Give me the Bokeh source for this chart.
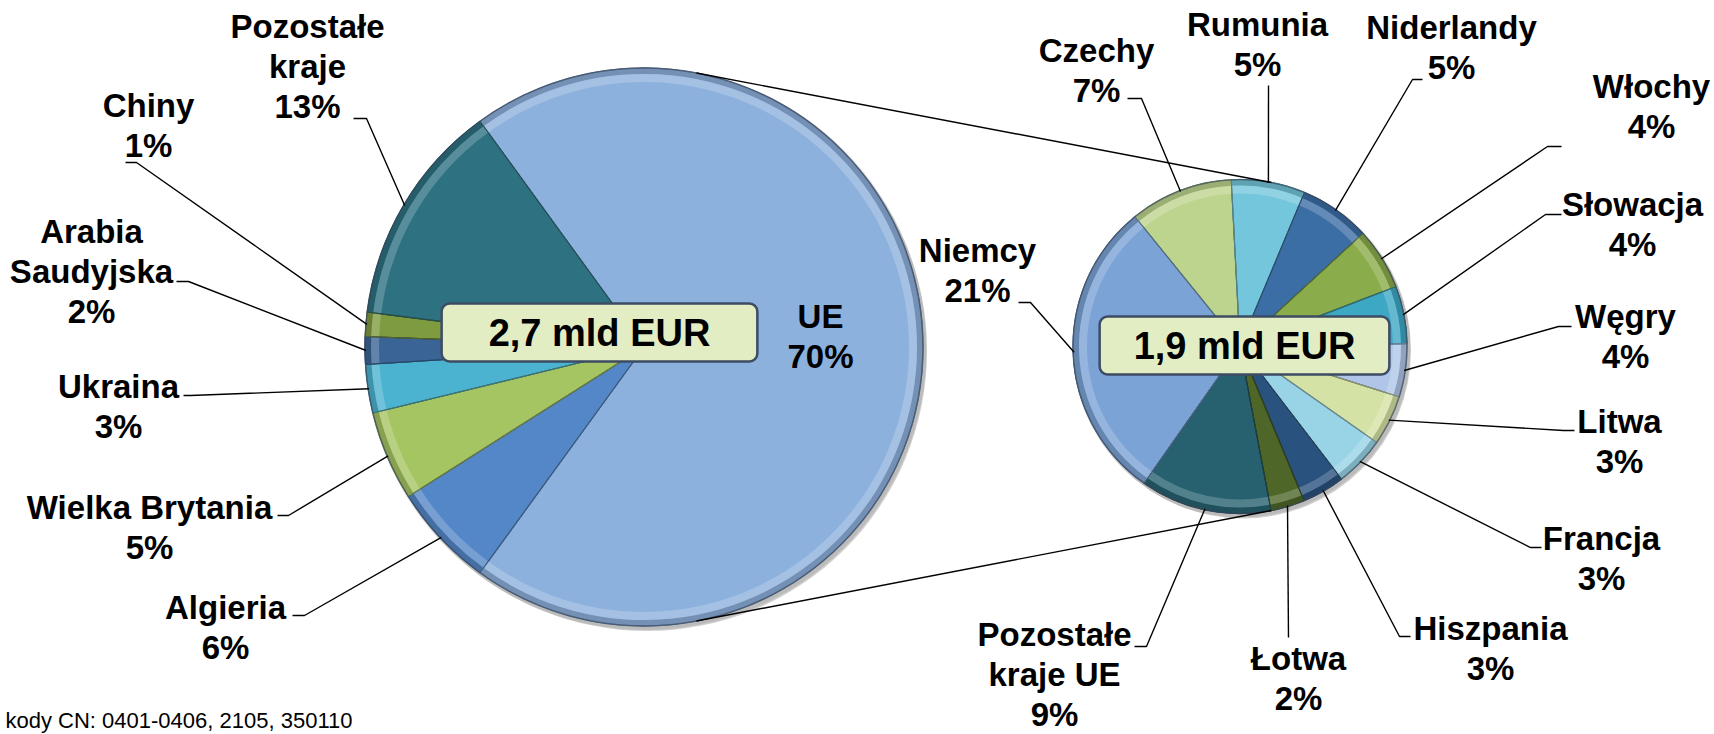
import math
import numpy as np
from bokeh.plotting import figure
from bokeh.models import Range1d, Label, ColumnDataSource
from bokeh.core.properties import value
from bokeh.embed import file_html
from bokeh.resources import INLINE

# ---------------- data ----------------
main_names = ["UE", "Algieria", "Wielka Brytania", "Ukraina", "Arabia Saudyjska", "Chiny", "Pozostałe kraje"]
main_shares = [70.0, 6.0, 5.2, 2.8, 1.6, 1.4, 13.0]

ue_names = ["Czechy", "Rumunia", "Niderlandy", "Włochy", "Słowacja", "Węgry", "Litwa",
            "Francja", "Hiszpania", "Łotwa", "Pozostałe kraje UE", "Niemcy"]
ue_shares = [7.0, 5.0, 4.8, 4.2, 3.9, 3.6, 3.4, 3.4, 2.9, 2.3, 8.9, 20.6]

total_labels = ["2,7 mld EUR", "1,9 mld EUR"]
source_note = "kody CN: 0401-0406, 2105, 350110"

# ---------------- styling / layout ----------------
main_colors = ["#8DB1DD", "#5487C7", "#A5C462", "#4BB3CF", "#3B6496", "#7F9B3F", "#2E7282"]
ue_colors = ["#BDD48E", "#74C6DC", "#3C6EA6", "#8AAC4A", "#3CA8C4", "#AFC6E8", "#D5E2A5",
             "#98D4E6", "#2A527E", "#4E6628", "#27616F", "#7BA3D6"]

line_breaks = {"Arabia Saudyjska": ["Arabia", "Saudyjska"],
               "Pozostałe kraje": ["Pozostałe", "kraje"],
               "Pozostałe kraje UE": ["Pozostałe", "kraje UE"]}

# label first-line centres (page pixels)
main_label_pos = [(820, 316), (225, 607), (149, 507), (118, 386), (91, 231), (148, 105), (307, 26)]
ue_label_pos = [(1096, 50), (1257, 24), (1451, 27), (1651, 86), (1632, 204), (1625, 316), (1619, 421),
                (1601, 538), (1490, 628), (1298, 658), (1054, 634), (977, 250)]
# leader stubs: (x_far, x_near, y)
main_stubs = [None, (292, 304, 615), (277, 288, 515), (183, 190, 395), (176, 188, 281),
              (125, 136, 162), (353, 366, 118)]
ue_stubs = [(1127, 1141, 98), (1268, 1268, 85), (1422, 1412, 79), (1561, 1547, 146),
            (1561, 1545, 214), (1571, 1558, 326), (1574, 1563, 430), (1541, 1530, 547),
            (1410, 1399, 636), (1288, 1288, 637), (1134, 1146, 646), (1018, 1030, 302)]

L_CX, L_CY, L_R = 643.5, 346.5, 279.0
R_CX, R_CY, R_R = 1239.5, 346.0, 167.0
R_START = -39.0
LINE_H = 40
FONT = "Liberation Sans"

W, H = 1714, 734
p = figure(width=W, height=H, x_range=Range1d(0, W), y_range=Range1d(-H, 0),
           toolbar_location=None, output_backend="svg", min_border=0,
           x_axis_location=None, y_axis_location=None)
p.grid.visible = False
p.outline_line_color = None
p.background_fill_color = "white"


def mix(hexc, target, t):
    h = hexc.lstrip("#")
    c = [int(h[i:i + 2], 16) for i in (0, 2, 4)]
    return "#%02x%02x%02x" % tuple(int(round(a + (b - a) * t)) for a, b in zip(c, target))


def pt(cx, cy, r, th):
    t = math.radians(th)
    return cx + r * math.sin(t), -(cy - r * math.cos(t))


def draw_pie(cx, cy, r, shares, colors, start):
    tot = sum(shares)
    cum = np.concatenate([[0.0], np.cumsum([s / tot * 360.0 for s in shares])])
    th0 = start + cum[:-1]
    th1 = start + cum[1:]
    sa = np.radians(90.0 - th1)
    ea = np.radians(90.0 - th0)
    # shadow
    p.circle(x=[cx + 3], y=[-cy - 4], radius=r + 1, fill_color="black", fill_alpha=0.18, line_color=None)
    p.circle(x=[cx + 1.5], y=[-cy - 2], radius=r + 2, fill_color="black", fill_alpha=0.10, line_color=None)
    src = ColumnDataSource(dict(sa=sa, ea=ea, c=colors,
                                dk=[mix(c, (0, 0, 0), 0.35) for c in colors],
                                dk2=[mix(c, (0, 0, 0), 0.18) for c in colors],
                                lt=[mix(c, (255, 255, 255), 0.45) for c in colors]))
    p.wedge(x=cx, y=-cy, radius=r, start_angle="sa", end_angle="ea", direction="anticlock",
            fill_color="c", line_color="dk", line_width=1.2, source=src)
    p.annular_wedge(x=cx, y=-cy, inner_radius=r - 6, outer_radius=r, start_angle="sa", end_angle="ea",
                    direction="anticlock", fill_color="dk2", line_color=None, source=src)
    p.annular_wedge(x=cx, y=-cy, inner_radius=r - 14, outer_radius=r - 6, start_angle="sa", end_angle="ea",
                    direction="anticlock", fill_color="lt", fill_alpha=0.45, line_color=None, source=src)
    p.wedge(x=cx, y=-cy, radius=r, start_angle="sa", end_angle="ea", direction="anticlock",
            fill_color=None, line_color="dk", line_width=1.0, source=src)
    p.circle(x=[cx], y=[-cy], radius=r, fill_color=None, line_color="#3E4C62", line_alpha=0.6, line_width=1.5)
    return (th0 + th1) / 2.0


mid_main = draw_pie(L_CX, L_CY, L_R, main_shares, main_colors, 90.0 - main_shares[0] / sum(main_shares) * 180.0)
mid_ue = draw_pie(R_CX, R_CY, R_R, ue_shares, ue_colors, R_START)

# connector lines (external tangents of both pies)
d = R_CX - L_CX
alpha = math.degrees(math.asin((L_R - R_R) / d))
cx_lines, cy_lines = [], []
for th in (alpha, 180.0 - alpha):
    a = pt(L_CX, L_CY, L_R, th)
    b = pt(R_CX, R_CY, R_R, th)
    cx_lines.append([a[0], b[0]])
    cy_lines.append([a[1], b[1]])
p.multi_line(xs=cx_lines, ys=cy_lines, line_color="black", line_width=1.4)

# leader lines
lx, ly = [], []
for stubs, mids, cx, cy, r in ((main_stubs, mid_main, L_CX, L_CY, L_R), (ue_stubs, mid_ue, R_CX, R_CY, R_R)):
    for s, m in zip(stubs, mids):
        if s is None:
            continue
        e = pt(cx, cy, r - 1, m)
        lx.append([s[0], s[1], e[0]])
        ly.append([-s[2], -s[2], e[1]])
p.multi_line(xs=lx, ys=ly, line_color="black", line_width=1.4)

# labels
tx, ty, tt = [], [], []
for names, shares, poss in ((main_names, main_shares, main_label_pos), (ue_names, ue_shares, ue_label_pos)):
    for n, v, (x, y) in zip(names, shares, poss):
        lines = line_breaks.get(n, [n]) + ["%d%%" % int(round(v))]
        for i, ln in enumerate(lines):
            tx.append(x)
            ty.append(-(y + i * LINE_H))
            tt.append(ln)
p.text(x=tx, y=ty, text=tt, text_align="center", text_baseline="middle",
       text_font=value(FONT), text_font_style="bold", text_font_size="33px", text_color="black")

# total boxes
boxes = [((599, 332), dict(top=8, bottom=8, left=47, right=47)),
         ((1244, 345), dict(top=8, bottom=8, left=34, right=34))]
for txt, ((bx, by), pad) in zip(total_labels, boxes):
    p.add_layout(Label(x=bx, y=-by, text=txt, text_align="center", text_baseline="middle",
                       text_font=FONT, text_font_size="38px", text_font_style="bold", text_alpha=0.0,
                       x_offset=3, y_offset=-3, padding=pad, border_radius=8,
                       background_fill_color="black", background_fill_alpha=0.22, border_line_color=None))
    p.add_layout(Label(x=bx, y=-by, text=txt, text_align="center", text_baseline="middle",
                       text_font=FONT, text_font_size="38px", text_font_style="bold", text_color="black",
                       padding=pad, border_radius=8,
                       background_fill_color="#E3EDC4", border_line_color="#3D4C63", border_line_width=2.5))

# source note
p.text(x=[5], y=[-720], text=[source_note], text_align="left", text_baseline="alphabetic",
       text_font=value(FONT), text_font_size="22px", text_color="black")

open("out.html", "w").write(file_html(p, INLINE))
